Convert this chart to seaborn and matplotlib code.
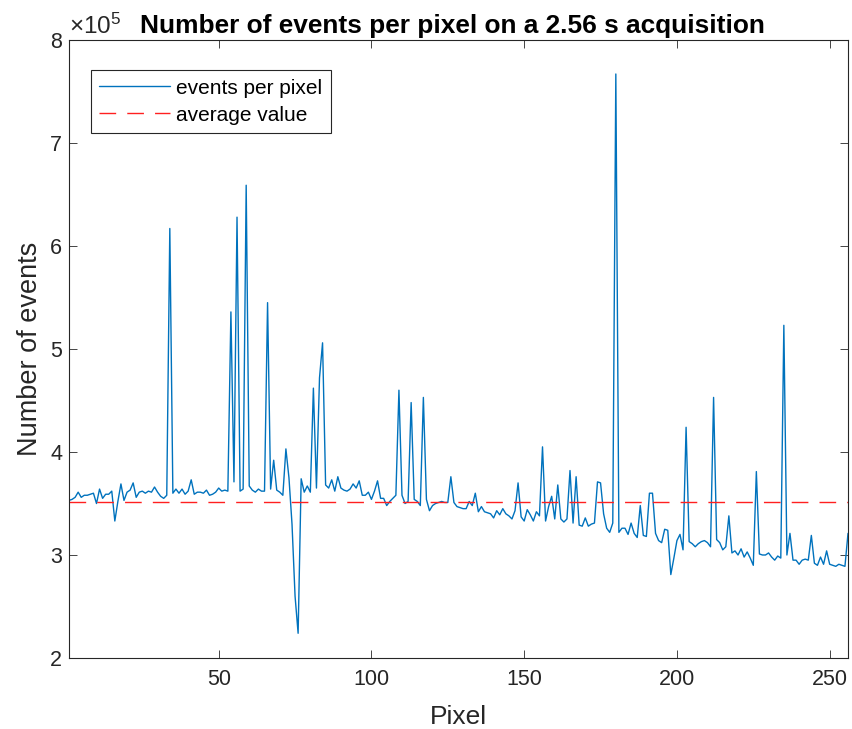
import numpy as np
import pandas as pd
import matplotlib
matplotlib.use("Agg")
import matplotlib.pyplot as plt
from matplotlib.ticker import FuncFormatter
import seaborn as sns

# Events counted on each of the 256 pixels (units of 1e5 events)
events_e5 = [
    3.53, 3.54, 3.56, 3.61, 3.56, 3.58, 3.58, 3.59, 3.60, 3.50,
    3.64, 3.55, 3.59, 3.59, 3.62, 3.33, 3.52, 3.69, 3.53, 3.61,
    3.63, 3.70, 3.56, 3.61, 3.62, 3.60, 3.62, 3.61, 3.66, 3.61,
    3.57, 3.55, 3.58, 6.17, 3.60, 3.64, 3.60, 3.64, 3.59, 3.62,
    3.73, 3.59, 3.61, 3.61, 3.60, 3.63, 3.58, 3.59, 3.61, 3.65,
    3.62, 3.63, 3.62, 5.36, 3.71, 6.28, 3.62, 3.64, 6.59, 3.67,
    3.63, 3.61, 3.64, 3.62, 3.62, 5.45, 3.64, 3.92, 3.63, 3.61,
    3.58, 4.03, 3.75, 3.30, 2.60, 2.24, 3.74, 3.61, 3.67, 3.61,
    4.62, 3.65, 4.72, 5.06, 3.68, 3.65, 3.73, 3.62, 3.76, 3.65,
    3.63, 3.62, 3.64, 3.69, 3.65, 3.72, 3.58, 3.58, 3.61, 3.54,
    3.62, 3.72, 3.55, 3.55, 3.48, 3.52, 3.55, 3.58, 4.60, 3.58,
    3.50, 3.52, 4.48, 3.54, 3.52, 3.48, 4.53, 3.54, 3.43, 3.48,
    3.50, 3.51, 3.52, 3.51, 3.51, 3.76, 3.51, 3.47, 3.46, 3.45,
    3.45, 3.52, 3.48, 3.60, 3.42, 3.47, 3.42, 3.41, 3.40, 3.36,
    3.43, 3.39, 3.45, 3.40, 3.38, 3.35, 3.43, 3.70, 3.37, 3.33,
    3.44, 3.39, 3.33, 3.42, 3.38, 4.05, 3.33, 3.47, 3.57, 3.35,
    3.68, 3.35, 3.32, 3.35, 3.82, 3.31, 3.76, 3.29, 3.28, 3.36,
    3.28, 3.30, 3.31, 3.71, 3.70, 3.40, 3.26, 3.22, 3.31, 7.67,
    3.22, 3.26, 3.26, 3.20, 3.31, 3.21, 3.17, 3.48, 3.19, 3.18,
    3.60, 3.60, 3.21, 3.14, 3.12, 3.25, 3.24, 2.81, 2.97, 3.14,
    3.20, 3.05, 4.24, 3.13, 3.11, 3.08, 3.11, 3.13, 3.14, 3.12,
    3.08, 4.53, 3.15, 3.12, 3.05, 3.08, 3.38, 3.02, 3.04, 3.00,
    3.06, 2.98, 3.03, 2.97, 2.90, 3.81, 3.01, 3.00, 3.00, 3.02,
    2.98, 2.95, 2.99, 2.97, 5.23, 3.00, 3.21, 2.95, 2.95, 2.91,
    2.95, 2.96, 2.95, 3.19, 2.92, 2.90, 2.98, 2.91, 3.04, 2.91,
    2.90, 2.89, 2.91, 2.90, 2.89, 3.21,
]
pixel = np.arange(1, len(events_e5) + 1)
x_ticks = [50, 100, 150, 200, 250]
y_ticks_e5 = [2, 3, 4, 5, 6, 7, 8]

events = np.array(events_e5) * 1e5
avg_events = events.mean()
df = pd.DataFrame({"Pixel": pixel, "Events": events})

sns.set_theme(style="ticks")
plt.rcParams["font.family"] = ["Liberation Sans", "DejaVu Sans"]
plt.rcParams["mathtext.fontset"] = "custom"
plt.rcParams["mathtext.rm"] = "Liberation Sans"
plt.rcParams["mathtext.it"] = "Liberation Sans:italic"

ink = "#262626"
fig = plt.figure(figsize=(8.53, 7.29), dpi=100)
ax = fig.add_axes([69 / 853, 1 - 658 / 729, (848 - 69) / 853, (658 - 40) / 729])

sns.lineplot(data=df, x="Pixel", y="Events", ax=ax, color="#0072BD",
             linewidth=1.0, label="events per pixel")
ax.axhline(avg_events, color="#FF2020", linewidth=1.0, dashes=(12, 8),
           label="average value")

ax.set_xlim(1, 256)
ax.set_ylim(2e5, 8e5)
ax.set_xticks(x_ticks)
ax.set_yticks([v * 1e5 for v in y_ticks_e5])
ax.yaxis.set_major_formatter(FuncFormatter(lambda v, _: f"{v / 1e5:g}"))

for s in ax.spines.values():
    s.set_visible(True)
    s.set_color(ink)
    s.set_linewidth(0.8)
ax.tick_params(direction="in", length=6, width=0.6, colors=ink,
               labelsize=15.5, top=True, right=True)
ax.tick_params(axis="x", pad=8)
ax.tick_params(axis="y", pad=5)

ax.set_xlabel("Pixel", fontsize=19, color=ink, labelpad=11)
ax.set_ylabel("Number of events", fontsize=19.5, color=ink, labelpad=5)
ax.set_title("Number of events per pixel on a 2.56 s acquisition",
             fontsize=18.9, fontweight="bold", color="black", pad=5, x=0.492)
ax.text(0.0, 1.002, r"$\times10^{5}$", transform=ax.transAxes,
        ha="left", va="bottom", fontsize=17.5, color=ink)

leg = ax.legend(loc="upper left", bbox_to_anchor=(0.028, 0.951),
                borderaxespad=0, fontsize=15, frameon=True, fancybox=False,
                framealpha=1, edgecolor=ink, handlelength=3.4,
                handletextpad=0.3, labelspacing=0.38, borderpad=0.4)
leg.get_frame().set_linewidth(0.8)
for t in leg.get_texts():
    t.set_color("black")

fig.savefig("out.png", dpi=100)
